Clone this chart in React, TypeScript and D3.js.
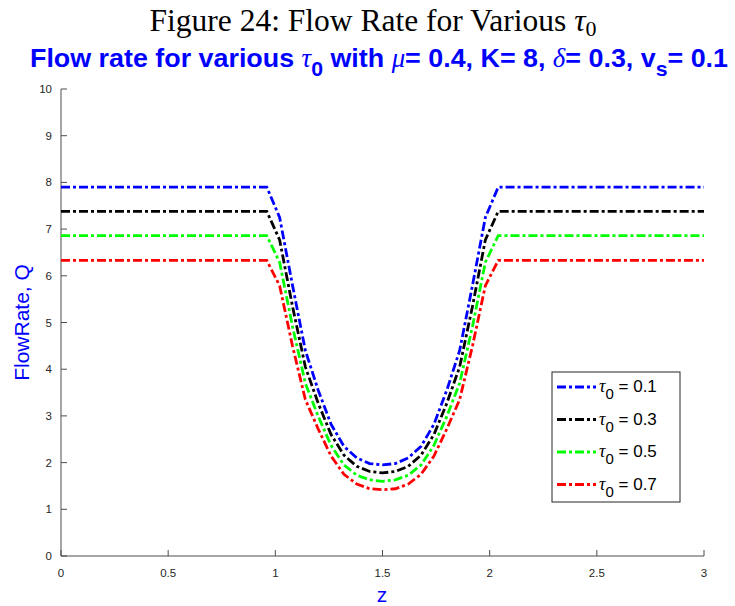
import React from "react";
import * as d3 from "d3";

const zValues = [0, 0.96, 1.02, 1.08, 1.14, 1.2, 1.26, 1.32, 1.38, 1.44, 1.5, 1.56, 1.62, 1.68, 1.74, 1.8, 1.86, 1.92, 1.98, 2.04, 3];
const tau01 = [7.9, 7.9, 7.25, 5.8, 4.4, 3.55, 2.82, 2.35, 2.1, 1.98, 1.95, 1.98, 2.1, 2.35, 2.82, 3.55, 4.4, 5.8, 7.25, 7.9, 7.9];
const tau03 = [7.38, 7.38, 6.77, 5.35, 4.05, 3.27, 2.6, 2.16, 1.92, 1.81, 1.78, 1.81, 1.92, 2.16, 2.6, 3.27, 4.05, 5.35, 6.77, 7.38, 7.38];
const tau05 = [6.86, 6.86, 6.29, 4.92, 3.7, 2.99, 2.37, 1.95, 1.73, 1.63, 1.6, 1.63, 1.73, 1.95, 2.37, 2.99, 3.7, 4.92, 6.29, 6.86, 6.86];
const tau07 = [6.33, 6.33, 5.79, 4.5, 3.35, 2.72, 2.14, 1.75, 1.54, 1.44, 1.42, 1.44, 1.54, 1.75, 2.14, 2.72, 3.35, 4.5, 5.79, 6.33, 6.33];
const seriesLabels = ["0.1", "0.3", "0.5", "0.7"];
const seriesColors = ["#0000ff", "#000000", "#00ff00", "#ff0000"];
const xTicks = [0, 0.5, 1, 1.5, 2, 2.5, 3];
const yTicks = [0, 1, 2, 3, 4, 5, 6, 7, 8, 9, 10];

const allSeries = [tau01, tau03, tau05, tau07];

export default function App() {
  const x = d3.scaleLinear().domain([0, 3]).range([61, 704]);
  const y = d3.scaleLinear().domain([0, 10]).range([556, 89]);
  const line = d3
    .line<number>()
    .x((_, i) => x(zValues[i]))
    .y((d) => y(d));
  const axisColor = "#4d4d4d";
  const tickText = "#262626";
  const sans = "'Liberation Sans', Arial, sans-serif";
  const serif = "'Liberation Serif', 'Times New Roman', serif";
  const dash = "9,3,3,3";
  const legX = 552;
  const legY = 372;
  const legW = 128;
  const legH = 130;
  const rowH = 32.5;

  return (
    <svg width={735} height={606} style={{ position: "absolute", left: 0, top: 0, background: "#fff" }}>
      <rect x={0} y={0} width={735} height={606} fill="#fff" />
      <text x={373} y={31} textAnchor="middle" fontFamily={serif} fontSize={31.5} fill="#000">
        Figure 24: Flow Rate for Various <tspan fontStyle="italic">τ</tspan>
        <tspan fontSize={22} dy={5}>0</tspan>
      </text>
      <text x={30} y={67} fontFamily={sans} fontWeight="bold" fontSize={26.5} fill="#0000ff" textLength={698} lengthAdjust="spacingAndGlyphs">
        Flow rate for various <tspan fontFamily={serif} fontStyle="italic" fontWeight="normal">τ</tspan>
        <tspan dy={9} fontSize={21}>0</tspan>
        <tspan dy={-9}> with </tspan>
        <tspan fontFamily={serif} fontStyle="italic" fontWeight="normal">μ</tspan>
        <tspan>= 0.4, K= 8, </tspan>
        <tspan fontFamily={serif} fontStyle="italic" fontWeight="normal">δ</tspan>
        <tspan>= 0.3, v</tspan>
        <tspan dy={9} fontSize={21}>s</tspan>
        <tspan dy={-9}>= 0.1</tspan>
      </text>

      {/* axes */}
      <line x1={x(0)} x2={x(3)} y1={y(0)} y2={y(0)} stroke={axisColor} strokeWidth={1} />
      <line x1={x(0)} x2={x(0)} y1={y(0)} y2={y(10)} stroke={axisColor} strokeWidth={1} />
      {xTicks.map((t) => (
        <g key={"x" + t}>
          <line x1={x(t)} x2={x(t)} y1={y(0)} y2={y(0) - 6} stroke={axisColor} />
          <text x={x(t)} y={577} textAnchor="middle" fontFamily={sans} fontSize={11.5} fill={tickText}>
            {t}
          </text>
        </g>
      ))}
      {yTicks.map((t) => (
        <g key={"y" + t}>
          <line x1={x(0)} x2={x(0) + 6} y1={y(t)} y2={y(t)} stroke={axisColor} />
          <text x={52} y={y(t) + 4} textAnchor="end" fontFamily={sans} fontSize={11.5} fill={tickText}>
            {t}
          </text>
        </g>
      ))}
      <text x={382} y={602} textAnchor="middle" fontFamily={sans} fontSize={21} fill="#0000ff">
        z
      </text>
      <text
        transform={`translate(29, ${(y(0) + y(10)) / 2}) rotate(-90)`}
        textAnchor="middle"
        fontFamily={sans}
        fontSize={21}
        fill="#0000ff"
      >
        FlowRate, Q
      </text>

      {/* series */}
      {allSeries.map((s, i) => (
        <path key={i} d={line(s) || ""} fill="none" stroke={seriesColors[i]} strokeWidth={2.8} strokeDasharray={dash} />
      ))}

      {/* legend */}
      <rect x={legX} y={legY} width={legW} height={legH} fill="#fff" stroke="#262626" strokeWidth={1} />
      {seriesLabels.map((lab, i) => {
        const cy = legY + 15 + i * rowH;
        return (
          <g key={lab}>
            <line x1={legX + 5} x2={legX + 44} y1={cy} y2={cy} stroke={seriesColors[i]} strokeWidth={2.8} strokeDasharray={dash} />
            <text x={legX + 47} y={cy + 5} fontFamily={sans} fontSize={17} fill="#000">
              <tspan fontFamily={serif} fontStyle="italic" fontSize={18}>τ</tspan>
              <tspan dy={7} fontSize={15}>0</tspan>
              <tspan dy={-7}> = {lab}</tspan>
            </text>
          </g>
        );
      })}
    </svg>
  );
}
